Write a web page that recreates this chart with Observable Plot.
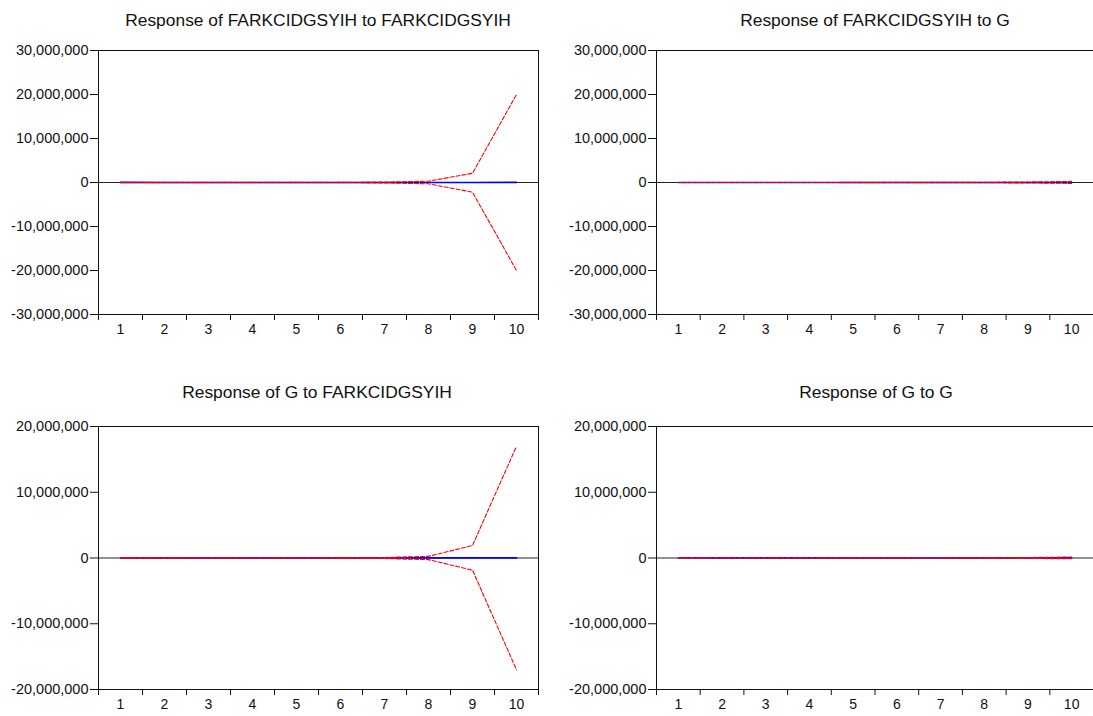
<!DOCTYPE html>
<html>
<head>
<meta charset="utf-8">
<script src="https://cdn.jsdelivr.net/npm/d3@7"></script>
<script src="https://cdn.jsdelivr.net/npm/@observablehq/plot@0.6"></script>
<style>
  html, body { margin: 0; padding: 0; background: #fff; overflow: hidden; }
  #root { position: relative; width: 1093px; height: 716px; overflow: hidden; font-family: "Liberation Sans", Arial, sans-serif; }
  .title { position: absolute; font-size: 17.4px; line-height: 20px; color: #111; white-space: nowrap; transform: translateX(-50%); }
  .panel { position: absolute; }
  .panel svg { max-width: none !important; display: block; }
</style>
</head>
<body>
<div id="root"></div>
<script>
// ---- Data ----
const periods = [1, 2, 3, 4, 5, 6, 7, 8, 9, 10];
const xTickBounds = [0.5, 1.5, 2.5, 3.5, 4.5, 5.5, 6.5, 7.5, 8.5, 9.5, 10.5];

const titles = [
  "Response of FARKCIDGSYIH to FARKCIDGSYIH",
  "Response of FARKCIDGSYIH to G",
  "Response of G to FARKCIDGSYIH",
  "Response of G to G"
];

// Panel 1: FARKCIDGSYIH -> FARKCIDGSYIH
const resp11  = [20000, 15000, 12000, 10000, 9000, 9000, 10000, 12000, 15000, 20000];
const upper11 = [25000, 30000, 35000, 40000, 50000, 60000, 90000, 300000, 2100000, 20000000];
const lower11 = [-25000, -30000, -35000, -40000, -50000, -60000, -90000, -300000, -2200000, -20000000];

// Panel 2: FARKCIDGSYIH -> G
const resp12  = [0, 5000, 6000, 6000, 7000, 7000, 8000, 9000, 10000, 12000];
const upper12 = [0, 10000, 12000, 15000, 18000, 22000, 30000, 50000, 120000, 250000];
const lower12 = [0, -10000, -12000, -15000, -18000, -22000, -30000, -50000, -100000, -200000];

// Panel 3: G -> FARKCIDGSYIH
const resp21  = [10000, 9000, 8000, 8000, 8000, 9000, 10000, 12000, 14000, 18000];
const upper21 = [20000, 25000, 30000, 35000, 40000, 50000, 80000, 250000, 1900000, 17000000];
const lower21 = [-20000, -25000, -30000, -35000, -40000, -50000, -80000, -250000, -1850000, -17000000];

// Panel 4: G -> G
const resp22  = [30000, 20000, 15000, 12000, 10000, 9000, 9000, 10000, 11000, 12000];
const upper22 = [40000, 30000, 25000, 22000, 22000, 25000, 30000, 45000, 80000, 150000];
const lower22 = [20000, 10000, 5000, 2000, 0, -5000, -10000, -25000, -60000, -120000];

const yTicksTop = [-30000000, -20000000, -10000000, 0, 10000000, 20000000, 30000000];
const yTicksBottom = [-20000000, -10000000, 0, 10000000, 20000000];

// ---- Drawing ----
const root = document.getElementById("root");
const fmt = d => d3.format(",")(d).replace("\u2212", "-");

function panel({resp, upper, lower, yDomain, yTicks, left, top, frameW, frameH, title, titleX, titleTop}) {
  const rows = periods.map((p, i) => ({period: p, resp: resp[i], upper: upper[i], lower: lower[i]}));
  const w = 98 + frameW + 10;
  const chart = Plot.plot({
    width: w,
    height: 10 + frameH + 30,
    marginLeft: 98,
    marginRight: 10,
    marginTop: 10,
    marginBottom: 30,
    style: {fontFamily: "'Liberation Sans', Arial, sans-serif", fontSize: "14px", color: "#111", background: "#fff", maxWidth: "none"},
    x: {domain: [0.5, 10.5]},
    y: {domain: yDomain},
    marks: [
      Plot.ruleY([0], {stroke: "#222", strokeWidth: 1}),
      Plot.line(rows, {x: "period", y: "resp", stroke: "#0000ff", strokeWidth: 1.6}),
      Plot.line(rows, {x: "period", y: "upper", stroke: "#ff0000", strokeWidth: 1.1, strokeDasharray: "4,2"}),
      Plot.line(rows, {x: "period", y: "lower", stroke: "#ff0000", strokeWidth: 1.1, strokeDasharray: "4,2"}),
      Plot.frame({stroke: "#111", strokeWidth: 1}),
      Plot.axisY({ticks: yTicks, tickFormat: fmt, tickSize: 8, tickPadding: 2, label: null, stroke: "#111", fontSize: 14.5}),
      Plot.axisX({ticks: xTickBounds, tickFormat: () => "", tickSize: 6, label: null, stroke: "#111"}),
      Plot.axisX({ticks: periods, tickSize: 0, tickPadding: 10, label: null, fontSize: 14})
    ]
  });
  const div = document.createElement("div");
  div.className = "panel";
  div.style.left = left + "px";
  div.style.top = top + "px";
  div.style.width = w + "px";
  div.appendChild(chart);
  root.appendChild(div);

  const t = document.createElement("div");
  t.className = "title";
  t.textContent = title;
  t.style.left = titleX + "px";
  t.style.top = titleTop + "px";
  root.appendChild(t);
}

panel({resp: resp11, upper: upper11, lower: lower11, yDomain: [-30000000, 30000000], yTicks: yTicksTop,
       left: 0, top: 40, frameW: 440, frameH: 264, title: titles[0], titleX: 318, titleTop: 10});
panel({resp: resp12, upper: upper12, lower: lower12, yDomain: [-30000000, 30000000], yTicks: yTicksTop,
       left: 558, top: 40, frameW: 437, frameH: 264, title: titles[1], titleX: 875, titleTop: 10});
panel({resp: resp21, upper: upper21, lower: lower21, yDomain: [-20000000, 20000000], yTicks: yTicksBottom,
       left: 0, top: 416, frameW: 440, frameH: 263, title: titles[2], titleX: 317, titleTop: 382});
panel({resp: resp22, upper: upper22, lower: lower22, yDomain: [-20000000, 20000000], yTicks: yTicksBottom,
       left: 558, top: 416, frameW: 437, frameH: 263, title: titles[3], titleX: 876, titleTop: 382});
</script>
</body>
</html>
